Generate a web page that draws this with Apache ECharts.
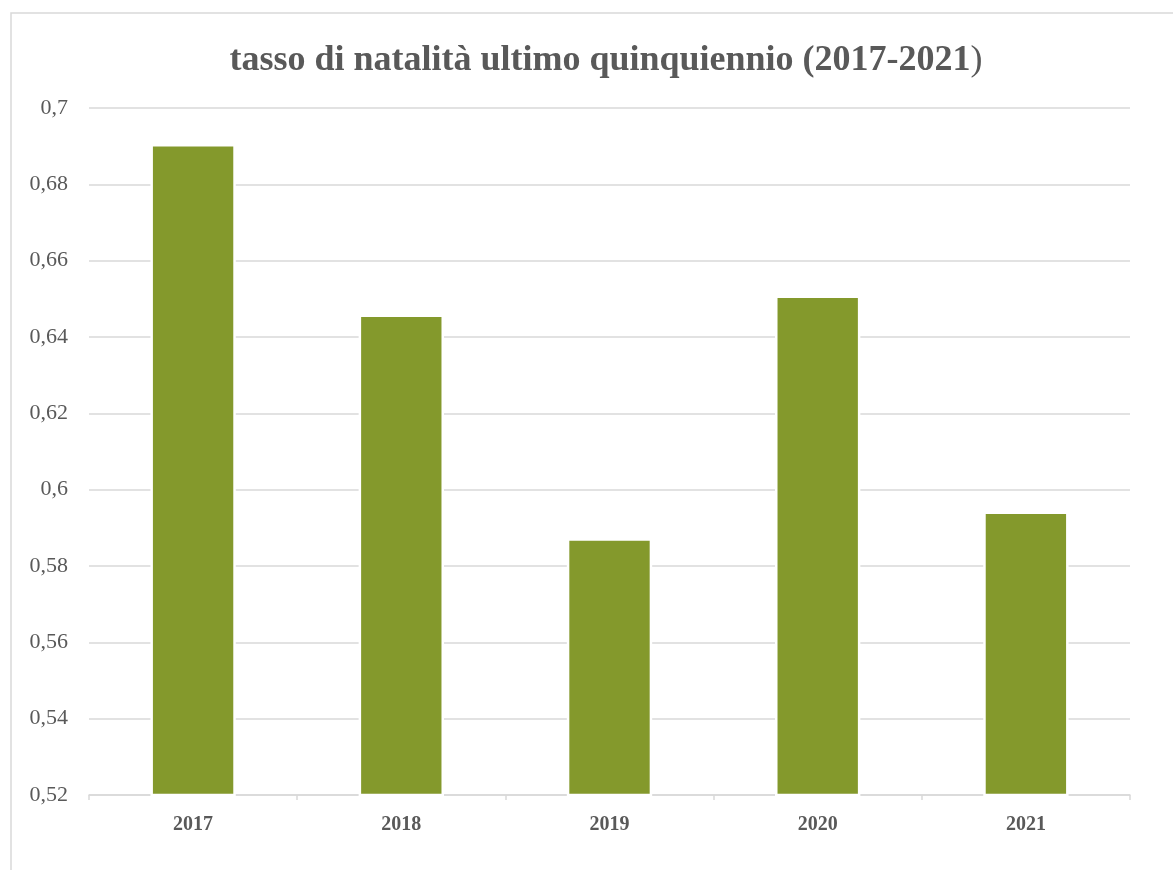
<!DOCTYPE html>
<html>
<head>
<meta charset="utf-8">
<script src="https://cdn.jsdelivr.net/npm/echarts@6/dist/echarts.min.js"></script>
<style>
html, body { margin: 0; padding: 0; background: #fff; overflow: hidden; }
#chart { width: 1173px; height: 870px; }
</style>
</head>
<body>
<div id="chart"></div>
<script>
// dati
var years = ['2017', '2018', '2019', '2020', '2021'];
var natalita = [0.6906, 0.6459, 0.5873, 0.6509, 0.5943];
var yMin = 0.52, yMax = 0.7, yStep = 0.02;

var chart = echarts.init(document.getElementById('chart'));

var option = {
    backgroundColor: '#fff',
    animation: false,
    graphic: [{
        type: 'rect',
        shape: { x: 11, y: 13, width: 1300, height: 1000 },
        style: { fill: 'none', stroke: '#d9d9d9', lineWidth: 1.5 },
        silent: true
    }],
    title: {
        text: '{b|tasso di natalità ultimo quinquiennio (2017-2021}{n|)}',
        left: 601,
        textAlign: 'center',
        top: 38,
        textStyle: {
            rich: {
                b: { fontFamily: 'Liberation Serif', fontWeight: 'bold', fontSize: 36, color: '#595959' },
                n: { fontFamily: 'Liberation Serif', fontWeight: 'normal', fontSize: 36, color: '#595959' }
            }
        }
    },
    grid: { left: 89, right: 43, top: 108, bottom: 75, containLabel: false },
    xAxis: {
        type: 'category',
        data: years,
        axisLine: { lineStyle: { color: '#d9d9d9', width: 1.5 } },
        axisTick: { show: true, length: 5, lineStyle: { color: '#d9d9d9', width: 1.5 } },
        axisLabel: {
            margin: 20,
            fontFamily: 'Liberation Serif',
            fontWeight: 'bold',
            fontSize: 20,
            color: '#595959'
        }
    },
    yAxis: {
        type: 'value',
        min: yMin,
        max: yMax,
        interval: yStep,
        axisLine: { show: false },
        axisTick: { show: false },
        splitLine: { lineStyle: { color: '#d9d9d9', width: 1.5 } },
        axisLabel: {
            margin: 21,
            fontFamily: 'Liberation Serif',
            fontSize: 22,
            color: '#595959',
            formatter: function (v) {
                return String(+v.toFixed(2)).replace('.', ',');
            }
        }
    },
    series: [{
        type: 'bar',
        data: natalita,
        barWidth: '41%',
        itemStyle: { color: '#84992c', borderColor: '#fff', borderWidth: 2.5 }
    }]
};

chart.setOption(option);
</script>
</body>
</html>
